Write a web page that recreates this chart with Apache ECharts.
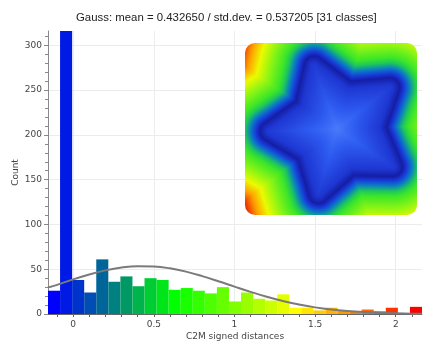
<!DOCTYPE html>
<html>
<head>
<meta charset="utf-8">
<script src="https://cdn.jsdelivr.net/npm/echarts@6/dist/echarts.min.js"></script>
<style>
html, body { margin: 0; padding: 0; background: #fff; }
#main { width: 424px; height: 343px; }
</style>
</head>
<body>
<div id="main"></div>
<script>
// histogram, 31 classes
var binStart = -0.156;
var binWidth = 0.0748;
var counts = [26, 316, 38, 24, 61, 36, 42, 31, 40, 38, 27, 29, 26, 23, 30, 14,
              24, 17, 15, 22, 7, 7, 4, 7, 4, 3, 5, 3, 7, 0, 8];
// gauss curve
var gaussX = [-0.156, -0.1, 0, 0.1, 0.2, 0.3, 0.4, 0.5, 0.6, 0.7, 0.8, 0.9, 1.0,
              1.1, 1.2, 1.3, 1.4, 1.5, 1.6, 1.7, 1.8, 1.9, 2.0, 2.1, 2.163];
var gaussY = [29.5, 32.5, 38.7, 44.2, 48.7, 51.9, 53.4, 53.1, 51.0, 47.3, 42.3, 36.6, 30.6,
              24.7, 19.3, 14.5, 10.6, 7.4, 5.0, 3.3, 2.1, 1.3, 0.8, 0.4, 0.3];
// ticks
var xLabels = [0, 0.5, 1, 1.5, 2];
var xMinorTicks = [-0.1, 0, 0.1, 0.2, 0.3, 0.4, 0.5, 0.6, 0.7, 0.8, 0.9, 1, 1.1, 1.2,
                   1.3, 1.4, 1.5, 1.6, 1.7, 1.8, 1.9, 2, 2.1];
var yLabels = [0, 50, 100, 150, 200, 250, 300];
var yMinorTicks = [0, 10, 20, 30, 40, 50, 60, 70, 80, 90, 100, 110, 120, 130, 140, 150,
                   160, 170, 180, 190, 200, 210, 220, 230, 240, 250, 260, 270, 280, 290, 300, 310];
var yMax = 316;
var xMin = binStart;
var xMax = binStart + counts.length * binWidth;

// blue > green > yellow > red
function ramp(t) {
  var stops = [[0, 0, 255], [0, 255, 0], [255, 255, 0], [255, 0, 0]];
  var s = Math.min(Math.max(t, 0), 1) * 3;
  var k = Math.min(Math.floor(s), 2);
  var f = s - k;
  var a = stops[k], b = stops[k + 1];
  return 'rgb(' + Math.round(a[0] + (b[0] - a[0]) * f) + ',' +
    Math.round(a[1] + (b[1] - a[1]) * f) + ',' +
    Math.round(a[2] + (b[2] - a[2]) * f) + ')';
}

// small picture of the distance map (decoration)
function lerpStops(stops, d) {
  if (d <= stops[0][0]) return stops[0][1];
  for (var i = 1; i < stops.length; i++) {
    if (d <= stops[i][0]) {
      var f = (d - stops[i - 1][0]) / (stops[i][0] - stops[i - 1][0]);
      var a = stops[i - 1][1], b = stops[i][1];
      return [a[0] + (b[0] - a[0]) * f, a[1] + (b[1] - a[1]) * f, a[2] + (b[2] - a[2]) * f];
    }
  }
  return stops[stops.length - 1][1];
}
function makeInset(size) {
  var c = document.createElement('canvas');
  c.width = size; c.height = size;
  var ctx = c.getContext('2d');
  var img = ctx.createImageData(size, size);
  var cx = 92, cy = 86, R = 67, r = 39;
  var pts = [];
  for (var k = 0; k < 10; k++) {
    var ang = (-110 + k * 36) * Math.PI / 180;
    var rr = k % 2 ? r : R;
    pts.push([cx + rr * Math.cos(ang), cy + rr * Math.sin(ang)]);
  }
  var outside = [[0, [20, 30, 165]], [4, [25, 55, 215]], [9, [10, 120, 200]], [15, [30, 200, 90]],
                 [20, [60, 230, 40]], [32, [140, 245, 20]], [44, [235, 250, 0]], [54, [255, 160, 0]], [64, [235, 40, 0]]];
  var inside = [[0, [20, 30, 165]], [7, [30, 55, 210]], [30, [45, 90, 240]], [48, [70, 120, 250]]];
  for (var y = 0; y < size; y++) {
    for (var x = 0; x < size; x++) {
      var px = x + 0.5, py = y + 0.5, best = 1e9, inPoly = false;
      for (var i = 0, j = pts.length - 1; i < pts.length; j = i++) {
        var ax = pts[j][0], ay = pts[j][1], bx = pts[i][0], by = pts[i][1];
        var dx = bx - ax, dy = by - ay;
        var t = ((px - ax) * dx + (py - ay) * dy) / (dx * dx + dy * dy);
        t = Math.max(0, Math.min(1, t));
        var ex = ax + t * dx - px, ey = ay + t * dy - py;
        best = Math.min(best, ex * ex + ey * ey);
        if (((ay > py) !== (by > py)) && (px < (bx - ax) * (py - ay) / (by - ay) + ax)) inPoly = !inPoly;
      }
      var d = Math.sqrt(best) * (inPoly ? -1 : 1) - 10;
      var col = d >= 0 ? lerpStops(outside, d) : lerpStops(inside, -d);
      var o = (y * size + x) * 4;
      img.data[o] = col[0]; img.data[o + 1] = col[1]; img.data[o + 2] = col[2]; img.data[o + 3] = 255;
    }
  }
  ctx.putImageData(img, 0, 0);
  // rounded corners
  var rad = 10;
  ctx.globalCompositeOperation = 'destination-in';
  ctx.beginPath();
  ctx.moveTo(rad, 0);
  ctx.arcTo(size, 0, size, size, rad);
  ctx.arcTo(size, size, 0, size, rad);
  ctx.arcTo(0, size, 0, 0, rad);
  ctx.arcTo(0, 0, size, 0, rad);
  ctx.closePath();
  ctx.fill();
  return c;
}

var labelFont = { fontSize: 9, color: '#444', fontFamily: 'DejaVu Sans' };

var myChart = echarts.init(document.getElementById('main'));
var option = {
  backgroundColor: '#fff',
  animation: false,
  title: {
    text: 'Gauss: mean = 0.432650 / std.dev. = 0.537205 [31 classes]',
    left: 71,
    top: 7,
    textStyle: { fontSize: 11.4, fontWeight: 'normal', color: '#222', fontFamily: 'Liberation Sans' }
  },
  grid: { left: 48, right: 2, top: 31, bottom: 29, outerBoundsMode: 'none', containLabel: false },
  xAxis: [
    {
      type: 'value', min: xMin, max: xMax,
      axisLine: { onZero: false, lineStyle: { color: '#666' } },
      axisTick: { customValues: xMinorTicks, length: 3, lineStyle: { color: '#666' } },
      axisLabel: Object.assign({ customValues: xLabels, margin: 6 }, labelFont),
      splitLine: { show: false },
      name: 'C2M signed distances', nameLocation: 'middle', nameGap: 18, nameMoveOverlap: false,
      nameTextStyle: labelFont
    },
    {
      type: 'value', min: xMin, max: xMax, position: 'bottom',
      axisLine: { show: false, onZero: false },
      axisTick: { show: false, customValues: xLabels },
      axisLabel: { show: false },
      splitLine: { show: true, lineStyle: { color: '#ececec' } }
    }
  ],
  yAxis: [
    {
      type: 'value', min: 0, max: yMax,
      axisLine: { show: true, onZero: false, lineStyle: { color: '#888' } },
      axisTick: { show: true, customValues: yMinorTicks, length: 3, lineStyle: { color: '#888' } },
      axisLabel: Object.assign({ customValues: yLabels, margin: 6 }, labelFont),
      splitLine: { show: false },
      name: 'Count', nameLocation: 'middle', nameGap: 28, nameMoveOverlap: false,
      nameTextStyle: labelFont
    },
    {
      type: 'value', min: 0, max: yMax, position: 'left', offset: 0,
      axisLine: { show: false, onZero: false },
      axisTick: { show: true, customValues: yLabels, length: 4, lineStyle: { color: '#888' } },
      axisLabel: { show: false },
      splitLine: { show: true, lineStyle: { color: '#ececec' } }
    }
  ],
  graphic: [
    {
      type: 'image', left: 245, top: 43, z: 100,
      style: { image: makeInset(172), width: 172, height: 172 }
    }
  ],
  series: [
    {
      type: 'custom',
      xAxisIndex: 0, yAxisIndex: 0,
      z: 2,
      renderItem: function (params, api) {
        var idx = params.dataIndex;
        var x0 = binStart + idx * binWidth;
        var p0 = api.coord([x0, api.value(1)]);
        var p1 = api.coord([x0 + binWidth, 0]);
        return {
          type: 'rect',
          shape: { x: p0[0], y: p0[1], width: p1[0] - p0[0], height: p1[1] - p0[1] },
          style: { fill: ramp(idx / (counts.length - 1)) }
        };
      },
      data: counts.map(function (c, i) { return [binStart + (i + 0.5) * binWidth, c]; })
    },
    {
      type: 'line',
      xAxisIndex: 0, yAxisIndex: 0,
      z: 3,
      smooth: 0.4,
      showSymbol: false,
      lineStyle: { color: '#7a7a7a', width: 2 },
      data: gaussX.map(function (x, i) { return [x, gaussY[i]]; })
    }
  ]
};
myChart.setOption(option);
</script>
</body>
</html>
